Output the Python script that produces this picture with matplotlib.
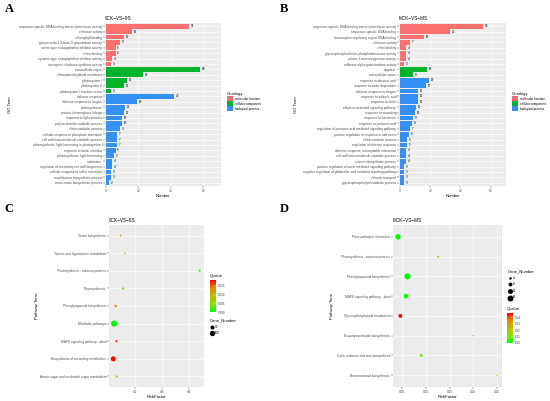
import numpy as np
import matplotlib
matplotlib.use("Agg")
import matplotlib.pyplot as plt
from matplotlib.colors import LinearSegmentedColormap
from matplotlib.patches import Patch

plt.rcParams['font.family'] = ['Liberation Sans', 'DejaVu Sans']

# ---- panel A: GO terms 9CK-VS-9S ----
a_mf_terms = ["sequence-specific DNA binding transcription factor activity", "chitinase activity",
              "chlorophyll binding", "glucan endo-1,3-beta-D-glucosidase activity",
              "serine-type endopeptidase inhibitor activity", "chitin binding",
              "cysteine-type endopeptidase inhibitor activity", "naringenin-chalcone synthase activity"]
a_mf_counts = [51, 16, 11, 9, 6, 6, 4, 3]
a_cc_terms = ["extracellular region", "chloroplast thylakoid membrane", "photosystem I",
              "photosystem II", "photosystem I reaction center"]
a_cc_counts = [58, 23, 13, 11, 3]
a_bp_terms = ["defense response", "defense response to fungus", "photosynthesis",
              "protein-chromophore linkage", "response to light stimulus",
              "polysaccharide catabolic process", "chitin catabolic process",
              "cellular response to phosphate starvation", "cell wall macromolecule catabolic process",
              "photosynthesis, light harvesting in photosystem I", "response to biotic stimulus",
              "photosynthesis, light harvesting", "nodulation",
              "regulation of secondary cell wall biogenesis", "cellular response to sulfur starvation",
              "momilactone biosynthetic process", "trans-zeatin biosynthetic process"]
a_bp_counts = [42, 19, 12, 11, 10, 10, 9, 7, 7, 7, 6, 5, 4, 4, 3, 3, 2]

# ---- panel B: GO terms MCK-VS-MS ----
b_mf_terms = ["sequence-specific DNA binding transcription factor activity", "sequence-specific DNA binding",
              "transcription regulatory region DNA binding", "chitinase activity", "chitin binding",
              "glycerophosphodiester phosphodiesterase activity", "alkane 1-monooxygenase activity",
              "raffinose alpha-galactosidase activity"]
b_mf_counts = [55, 33, 16, 7, 4, 4, 4, 3]
b_cc_terms = ["apoplast", "extracellular space"]
b_cc_counts = [18, 9]
b_bp_terms = ["response to abscisic acid", "response to water deprivation", "defense response to fungus",
              "response to salicylic acid", "response to chitin", "ethylene-activated signaling pathway",
              "response to wounding", "response to bacterium", "response to jasmonic acid",
              "regulation of jasmonic acid mediated signaling pathway",
              "positive regulation of response to salt stress", "chitin catabolic process",
              "regulation of defense response", "defense response, incompatible interaction",
              "cell wall macromolecule catabolic process", "suberin biosynthetic process",
              "positive regulation of auxin mediated signaling pathway",
              "negative regulation of gibberellic acid mediated signaling pathway",
              "chloride transport", "glycerophospholipid catabolic process"]
b_bp_counts = [19, 17, 12, 12, 12, 11, 10, 9, 8, 7, 6, 5, 5, 4, 4, 4, 3, 3, 3, 3]

# ---- panel C: KEGG 9CK-VS-9S ----
c_terms = ["Zeatin biosynthesis", "Taurine and hypotaurine metabolism", "Photosynthesis - antenna proteins",
           "Photosynthesis", "Phenylpropanoid biosynthesis", "Metabolic pathways",
           "MAPK signaling pathway - plant", "Biosynthesis of secondary metabolites",
           "Amino sugar and nucleotide sugar metabolism"]
c_rich = [0.093, 0.125, 0.677, 0.112, 0.058, 0.046, 0.063, 0.040, 0.065]
c_genes = [5, 2, 8, 9, 14, 135, 12, 85, 10]
c_qvalue = [0.0135, 0.0130, 0.0015, 0.0030, 0.0135, 0.0002, 0.0160, 0.0184, 0.0065]

# ---- panel D: KEGG MCK-VS-MS ----
d_terms = ["Plant-pathogen interaction", "Photosynthesis - antenna proteins", "Phenylpropanoid biosynthesis",
           "MAPK signaling pathway - plant", "Glycerophospholipid metabolism",
           "Exopolysaccharide biosynthesis", "Cutin, suberine and wax biosynthesis",
           "Benzoxazinoid biosynthesis"]
d_rich = [0.041, 0.126, 0.061, 0.058, 0.046, 0.200, 0.090, 0.250]
d_genes = [14, 3, 17, 11, 8, 2, 5, 2]
d_qvalue = [0.0005, 0.028, 0.0002, 0.002, 0.0466, 0.020, 0.008, 0.020]

onto_names = ["molecular function", "cellular component", "biological process"]
onto_colors = ["#F87070", "#00B22C", "#3490F2"]
q_cmap = LinearSegmentedColormap.from_list("q", ["#00FF00", "#8CE000", "#C0BA00", "#E58A00", "#FF0000"])

W, H = 550, 401
fig = plt.figure(figsize=(W / 100, H / 100), dpi=100)


def box(l, t, r, b):
    return [l / W, 1 - b / H, (r - l) / W, (b - t) / H]


def style(ax):
    ax.set_facecolor("#EBEBEB")
    for s in ax.spines.values():
        s.set_visible(False)
    ax.set_axisbelow(True)
    ax.grid(True, which="major", color="white", linewidth=0.45)
    ax.grid(True, which="minor", axis="x", color="white", linewidth=0.2)
    ax.tick_params(axis="both", which="major", length=1.2, width=0.3, color="#333333",
                   labelsize=2.3, pad=0.8, labelcolor="#4D4D4D")
    ax.tick_params(axis="both", which="minor", length=0)


def go_panel(rect, mf, cc, bp, title, xmax, legx):
    ax = fig.add_axes(box(*rect))
    terms = mf[0] + cc[0] + bp[0]
    counts = mf[1] + cc[1] + bp[1]
    groups = [0] * len(mf[0]) + [1] * len(cc[0]) + [2] * len(bp[0])
    y = np.arange(len(terms))
    ax.barh(y, counts, height=0.9, color=[onto_colors[g] for g in groups], zorder=2)
    for yi, c in zip(y, counts):
        ax.annotate(str(c), (c, yi), xytext=(1.3, 0), textcoords="offset points",
                    va="center", ha="left", fontsize=2.2, color="black")
    ax.set_yticks(y)
    ax.set_yticklabels(terms)
    ax.set_ylim(len(terms) - 0.4, -0.6)
    ax.set_xlim(-0.5, xmax)
    ax.set_xticks([0, 20, 40, 60])
    ax.set_xticks([10, 30, 50, 70], minor=True)
    style(ax)
    ax.set_title(title, loc="left", fontsize=3.3, pad=2)
    ax.set_xlabel("Number", fontsize=3, labelpad=1)
    handles = [Patch(facecolor=c, edgecolor="none") for c in onto_colors]
    ax.legend(handles, onto_names, title="Ontology", loc="upper left",
              bbox_to_anchor=(legx / W, 1 - 92 / H), bbox_transform=fig.transFigure,
              frameon=False, fontsize=2.2, title_fontsize=3, handlelength=1.9, handleheight=1.9,
              labelspacing=0.15, handletextpad=0.6, borderpad=0, borderaxespad=0)._legend_box.align = "left"
    return ax


def size_of(genes, lo, hi):
    g = np.sqrt(np.asarray(genes, dtype=float))
    d = 1.0 + (4.4 - 1.0) * (g - np.sqrt(lo)) / (np.sqrt(hi) - np.sqrt(lo))
    return d ** 2


def kegg_panel(rect, terms, rich, genes, q, title, xticks, xminor, fmt):
    ax = fig.add_axes(box(*rect))
    y = np.arange(len(terms))
    lo, hi = min(genes), max(genes)
    sc = ax.scatter(rich, y, s=size_of(genes, lo, hi), c=q, cmap=q_cmap,
                    vmin=min(q), vmax=max(q), linewidths=0, zorder=3)
    ax.set_yticks(y)
    ax.set_yticklabels(terms)
    ax.set_ylim(len(terms) - 0.4, -0.6)
    rng = max(rich) - min(rich)
    ax.set_xlim(min(rich) - 0.05 * rng, max(rich) + 0.05 * rng)
    ax.set_xticks(xticks)
    ax.set_xticklabels([fmt.format(v) for v in xticks])
    ax.set_xticks(xminor, minor=True)
    style(ax)
    ax.set_title(title, loc="left", fontsize=3.3, pad=2)
    ax.set_xlabel("RichFactor", fontsize=3, labelpad=1)
    return ax, sc, lo, hi


def size_legend(ax, breaks, lo, hi, x, ytop):
    handles = [ax.scatter([], [], s=s, color="black", linewidths=0) for s in size_of(breaks, lo, hi)]
    leg = ax.legend(handles, [str(b) for b in breaks], title="Gene_Number", loc="upper left",
                    bbox_to_anchor=(x / W, 1 - ytop / H), bbox_transform=fig.transFigure,
                    frameon=False, fontsize=2.2, title_fontsize=3, handlelength=1.0,
                    labelspacing=0.85, handletextpad=0.5, borderpad=0, borderaxespad=0, scatterpoints=1)
    leg._legend_box.align = "left"


def q_bar(sc, x0, t, b, title, ticks, fmt):
    cax = fig.add_axes(box(x0, t, x0 + 6, b))
    cb = fig.colorbar(sc, cax=cax)
    cb.outline.set_visible(False)
    cb.set_ticks(ticks)
    cb.set_ticklabels([fmt.format(v) for v in ticks])
    cax.tick_params(labelsize=2.2, length=1.2, width=0.3, color="white", pad=1, direction="in",
                    labelcolor="#333333")
    fig.text(x0 / W, 1 - (t - 4) / H, title, fontsize=3, va="center", ha="left")


go_panel((105, 23, 221, 186), (a_mf_terms, a_mf_counts), (a_cc_terms, a_cc_counts),
         (a_bp_terms, a_bp_counts), "9CK\u2212VS\u22129S", 71, 227)
go_panel((399, 23, 506, 186), (b_mf_terms, b_mf_counts), (b_cc_terms, b_cc_counts),
         (b_bp_terms, b_bp_counts), "MCK\u2212VS\u2212MS", 67.4, 512)

axc, scc, clo, chi = kegg_panel((109, 225, 204, 387), c_terms, c_rich, c_genes, c_qvalue,
                                "9CK\u2212VS\u22129S", [0.2, 0.4, 0.6], [0.1, 0.3, 0.5, 0.7], "{:.1f}")
q_bar(scc, 210, 280, 312, "Qvalue", [0.0, 0.005, 0.010, 0.015], "{:.3f}")
size_legend(axc, [50, 100], clo, chi, 210, 318)

axd, scd, dlo, dhi = kegg_panel((393, 225, 502, 387), d_terms, d_rich, d_genes, d_qvalue,
                                "MCK\u2212VS\u2212MS", [0.05, 0.10, 0.15, 0.20, 0.25],
                                [0.075, 0.125, 0.175, 0.225], "{:.2f}")
size_legend(axd, [4, 8, 12, 16], dlo, dhi, 508, 269)
q_bar(scd, 507, 313, 343, "Qvalue", [0.0, 0.01, 0.02, 0.03, 0.04], "{:.2f}")

# axis titles on the left
fig.text(10 / W, 1 - 105 / H, "GO Term", rotation=90, fontsize=3, va="center", ha="center")
fig.text(296 / W, 1 - 105 / H, "GO Term", rotation=90, fontsize=3, va="center", ha="center")
fig.text(37 / W, 1 - 306 / H, "Pathway Term", rotation=90, fontsize=3, va="center", ha="center")
fig.text(332 / W, 1 - 306 / H, "Pathway Term", rotation=90, fontsize=3, va="center", ha="center")

# panel letters
for lab, x, y in [("A", 9, 9), ("B", 284, 9), ("C", 9, 209), ("D", 284, 209)]:
    fig.text(x / W, 1 - y / H, lab, fontsize=9, fontweight="bold", family="Liberation Serif",
             va="center", ha="center")

plt.savefig("out.png", dpi=100)
